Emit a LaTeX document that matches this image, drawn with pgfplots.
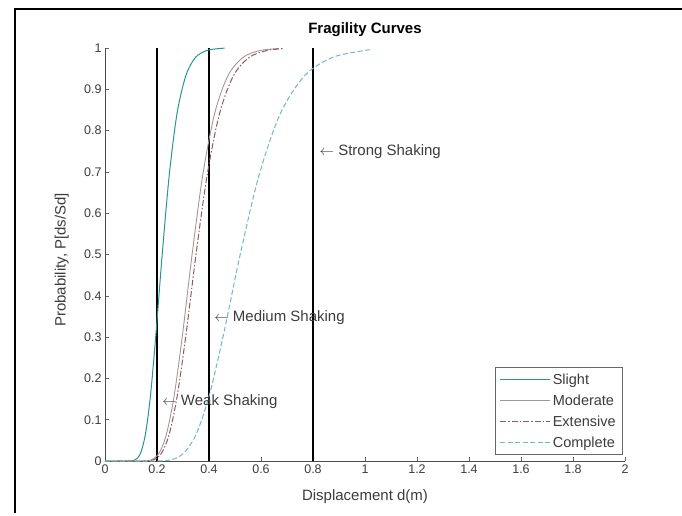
\documentclass[border=0pt]{standalone}
\usepackage{pgfplots}
\pgfplotsset{compat=1.18}
\usepackage{fontspec}
\setmainfont{Liberation Sans}
\definecolor{cslight}{RGB}{40,150,140}
\definecolor{cmod}{RGB}{165,150,150}
\definecolor{cext}{RGB}{150,85,95}
\definecolor{ccomp}{RGB}{110,185,195}
\definecolor{ctxt}{RGB}{60,60,60}
\begin{document}
\begin{tikzpicture}
\useasboundingbox (0,0) rectangle (682pt,515pt);
\draw[line width=2pt] (15pt,2pt) -- (15pt,506pt) -- (682pt,506pt);
\begin{axis}[
  at={(105pt,54pt)}, anchor=south west,
  scale only axis, width=520pt, height=413pt,
  xmin=0, xmax=2, ymin=0, ymax=1,
  axis lines=left, axis line style={-, draw=black!70, line width=0.6pt},
  xtick={0,0.2,...,2.01}, ytick={0,0.1,...,1.01},
  xticklabels={0,0.2,0.4,0.6,0.8,1,1.2,1.4,1.6,1.8,2},
  yticklabels={0,0.1,0.2,0.3,0.4,0.5,0.6,0.7,0.8,0.9,1},
  tick align=inside, major tick length=4pt,
  tick style={draw=black!60, line width=0.5pt},
  /pgf/number format/assume math mode=true,
  tick label style={font=\fontsize{12.5}{14}\selectfont, text=ctxt},
  xlabel={Displacement d(m)},
  ylabel={Probability, P[ds/Sd]},
  every axis x label/.style={at={(axis description cs:0.5,-0.087)}, anchor=center, font=\fontsize{15}{17}\selectfont, text=ctxt},
  every axis y label/.style={at={(axis description cs:-0.083,0.487)}, rotate=90, anchor=center, font=\fontsize{15}{17}\selectfont, text=ctxt},
  title={\textbf{Fragility Curves}},
  every axis title/.style={at={(axis description cs:0.5,1.044)}, anchor=center, font=\fontsize{15}{17}\selectfont},
  legend cell align=left,
  legend style={at={(axis description cs:0.996,0.015)}, anchor=south east,
    draw=black!60, line width=0.5pt, fill=white,
    font=\fontsize{14.5}{16}\selectfont, text=ctxt,
    row sep=5pt, inner xsep=5pt, inner ysep=4pt},
  legend image code/.code={\draw[#1] (0pt,0pt) -- (50pt,0pt);},
  clip=false,
]
% vertical shaking levels
\addplot[black, line width=2.4pt, forget plot] coordinates {(0.2,0) (0.2,1)};
\addplot[black, line width=2.4pt, forget plot] coordinates {(0.4,0) (0.4,1)};
\addplot[black, line width=2.4pt, forget plot] coordinates {(0.8,0) (0.8,1)};

\addplot[cslight, line width=1pt, smooth] table {
0 0
0.08 0
0.110 0.0013
0.124 0.0062
0.139 0.0228
0.156 0.0668
0.175 0.1587
0.196 0.3085
0.220 0.5
0.247 0.6915
0.277 0.8413
0.311 0.9332
0.348 0.9772
0.391 0.9938
0.439 0.9987
0.46 0.9995
};
\addlegendentry{Slight}

\addplot[cmod, line width=0.9pt, smooth] table {
0 0
0.14 0
0.168 0.0013
0.1885 0.0062
0.2115 0.0228
0.2372 0.0668
0.2662 0.1587
0.2986 0.3085
0.335 0.5
0.3758 0.6915
0.4216 0.8413
0.473 0.9332
0.5306 0.9772
0.5953 0.9938
0.668 0.9987
};
\addlegendentry{Moderate}

\addplot[cext, line width=1pt, smooth, dash pattern=on 6pt off 2pt on 1.5pt off 2pt] table {
0 0
0.15 0
0.1756 0.0013
0.1969 0.0062
0.221 0.0228
0.2479 0.0668
0.2781 0.1587
0.312 0.3085
0.35 0.5
0.3927 0.6915
0.4405 0.8413
0.4942 0.9332
0.5544 0.9772
0.622 0.9938
0.685 0.9985
};
\addlegendentry{Extensive}

\addplot[ccomp, line width=1pt, smooth, dash pattern=on 5pt off 2.5pt] table {
0 0
0.2 0
0.2384 0.0013
0.2715 0.0062
0.3091 0.0228
0.3521 0.0668
0.401 0.1587
0.4566 0.3085
0.52 0.5
0.5922 0.6915
0.6744 0.8413
0.768 0.9332
0.8747 0.9772
0.996 0.9938
1.022 0.9953
};
\addlegendentry{Complete}

\node[anchor=west, font=\fontsize{15}{17}\selectfont, text=ctxt, inner sep=0pt] at (axis cs:0.825,0.748) {$\leftarrow$ Strong Shaking};
\node[anchor=west, font=\fontsize{15}{17}\selectfont, text=ctxt, inner sep=0pt] at (axis cs:0.42,0.346) {$\leftarrow$ Medium Shaking};
\node[anchor=west, font=\fontsize{15}{17}\selectfont, text=ctxt, inner sep=0pt] at (axis cs:0.22,0.143) {$\leftarrow$ Weak Shaking};
\end{axis}
\end{tikzpicture}
\end{document}
